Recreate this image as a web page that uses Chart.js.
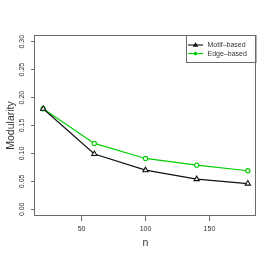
<!DOCTYPE html>
<html>
<head>
<meta charset="utf-8">
<script src="https://cdn.jsdelivr.net/npm/chart.js@4/dist/chart.umd.min.js"></script>
<style>
  body { margin: 0; background: #fff; }
  canvas { display: block; }
</style>
</head>
<body>
<canvas id="myChart" width="273" height="262"></canvas>
<script>
// data
const nValues = [20, 60, 100, 140, 180];
const motifBased = [0.180, 0.099, 0.070, 0.054, 0.046];
const edgeBased = [0.180, 0.118, 0.091, 0.079, 0.069];
const xTicks = [50, 100, 150];
const yTicks = [0, 0.05, 0.10, 0.15, 0.20, 0.25, 0.30];
const seriesNames = ['Motif\u2013based', 'Edge\u2013based'];

const black = '#111111';
const green = '#00cd00';
const axisColor = '#6a6a6a';
const textColor = '#333333';

// box around the plot region, like R's box()
const boxPlugin = {
  id: 'box',
  afterDraw(chart) {
    const { ctx, chartArea: a } = chart;
    ctx.save();
    ctx.strokeStyle = axisColor;
    ctx.lineWidth = 1;
    ctx.strokeRect(a.left - 0.5, a.top + 0.5, a.right - a.left, a.bottom - a.top - 1);
    ctx.restore();
  }
};

// legend inside the top right corner, with a border
const legendPlugin = {
  id: 'boxLegend',
  afterDraw(chart) {
    const { ctx, chartArea: a } = chart;
    const w = 70, h = 27;
    const x0 = a.right - w, y0 = a.top;
    ctx.save();
    ctx.strokeStyle = axisColor;
    ctx.lineWidth = 1;
    ctx.strokeRect(x0 + 0.5, y0 + 0.5, w - 0.5, h);
    ctx.font = '7px "Liberation Sans", Arial, sans-serif';
    ctx.textBaseline = 'middle';
    chart.data.datasets.forEach((ds, i) => {
      const y = y0 + 10 + i * 8.6;
      ctx.strokeStyle = ds.borderColor;
      ctx.lineWidth = 1.1;
      ctx.beginPath();
      ctx.moveTo(x0 + 2, y);
      ctx.lineTo(x0 + 17, y);
      ctx.stroke();
      ctx.fillStyle = ds.borderColor;
      ctx.beginPath();
      if (ds.pointStyle === 'triangle') {
        ctx.moveTo(x0 + 9.5, y - 2.8);
        ctx.lineTo(x0 + 12.3, y + 1.8);
        ctx.lineTo(x0 + 6.7, y + 1.8);
        ctx.closePath();
      } else {
        ctx.arc(x0 + 9.5, y, 1.8, 0, Math.PI * 2);
      }
      ctx.fill();
      ctx.fillStyle = textColor;
      ctx.fillText(ds.label, x0 + 21.5, y);
    });
    ctx.restore();
  }
};

const ctx = document.getElementById('myChart').getContext('2d');
const chart = new Chart(ctx, {
  type: 'line',
  data: {
    datasets: [{
      label: seriesNames[0],
      data: nValues.map((n, i) => ({ x: n, y: motifBased[i] })),
      borderColor: black,
      borderWidth: 1.2,
      pointStyle: 'triangle',
      pointRadius: 3,
      pointBorderWidth: 1.1,
      pointBorderColor: black,
      pointBackgroundColor: '#ffffff',
      tension: 0
    }, {
      label: seriesNames[1],
      data: nValues.map((n, i) => ({ x: n, y: edgeBased[i] })),
      borderColor: green,
      borderWidth: 1.2,
      pointStyle: 'circle',
      pointRadius: 2.1,
      pointBorderWidth: 1.1,
      pointBorderColor: green,
      pointBackgroundColor: '#ffffff',
      tension: 0
    }]
  },
  options: {
    responsive: false,
    animation: false,
    layout: { padding: { left: 0, top: 35, right: 17, bottom: 0 } },
    plugins: {
      legend: { display: false },
      tooltip: { enabled: false }
    },
    scales: {
      x: {
        type: 'linear',
        min: 13.6,
        max: 186.4,
        afterBuildTicks(scale) { scale.ticks = xTicks.map(v => ({ value: v })); },
        afterFit(scale) { scale.height = 46; },
        border: { display: false },
        grid: { drawOnChartArea: false, drawTicks: true, tickLength: 5, color: axisColor },
        ticks: {
          color: textColor,
          font: { family: '"Liberation Sans", Arial, sans-serif', size: 7 },
          padding: 4,
          maxRotation: 0
        },
        title: {
          display: true,
          text: 'n',
          color: textColor,
          font: { family: '"Liberation Sans", Arial, sans-serif', size: 10.5 },
          padding: { top: 0, bottom: 13 }
        }
      },
      y: {
        type: 'linear',
        min: -0.012,
        max: 0.312,
        afterBuildTicks(scale) { scale.ticks = yTicks.map(v => ({ value: v })); },
        afterFit(scale) { scale.width = 35; },
        border: { display: false },
        grid: { drawOnChartArea: false, drawTicks: true, tickLength: 4, color: axisColor },
        ticks: {
          color: textColor,
          font: { family: '"Liberation Sans", Arial, sans-serif', size: 7 },
          padding: 2,
          minRotation: 90,
          maxRotation: 90,
          crossAlign: 'center',
          callback: v => v.toFixed(2)
        },
        title: {
          display: true,
          text: 'Modularity',
          color: textColor,
          font: { family: '"Liberation Sans", Arial, sans-serif', size: 10.5 },
          padding: { top: 4.5, bottom: 0 }
        }
      }
    }
  },
  plugins: [boxPlugin, legendPlugin]
});
</script>
</body>
</html>
